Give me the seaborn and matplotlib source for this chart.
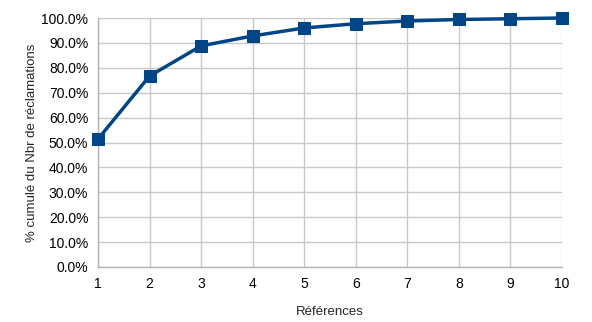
import matplotlib
matplotlib.use("Agg")
import matplotlib.pyplot as plt
import seaborn as sns
import pandas as pd
from matplotlib.ticker import PercentFormatter

references = [1, 2, 3, 4, 5, 6, 7, 8, 9, 10]
cumul_pct = [51.4, 76.7, 88.8, 92.8, 96.0, 97.7, 98.8, 99.4, 99.7, 100.0]

df = pd.DataFrame({"ref": references, "pct": cumul_pct})

sns.set_style("white")
plt.rcParams["font.family"] = ["Liberation Sans", "DejaVu Sans"]

fig = plt.figure(figsize=(5.92, 3.22), dpi=100)
W, H = 592, 322
ax = fig.add_axes([98 / W, (H - 267) / H, (562 - 98) / W, (267 - 18) / H])

sns.lineplot(data=df, x="ref", y="pct", ax=ax, color="#004586", linewidth=2.5,
             marker="s", markersize=8, markeredgecolor="#004586", zorder=3, clip_on=False)

ax.set_xlim(1, 10)
ax.set_ylim(0, 100)
ax.set_xticks(references)
ax.set_yticks(range(0, 101, 10))
ax.yaxis.set_major_formatter(PercentFormatter(decimals=1))
ax.grid(True, color="#c8c8c8", linewidth=1)
ax.set_axisbelow(True)
for s in ["top", "right"]:
    ax.spines[s].set_visible(False)
for s in ["left", "bottom"]:
    ax.spines[s].set_color("#b3b3b3")
    ax.spines[s].set_linewidth(1)
ax.tick_params(axis="both", labelsize=10, colors="#b3b3b3", labelcolor="black",
               length=4, width=1, direction="out", pad=3)
ax.set_xlabel("Références", fontsize=9.5, labelpad=11)
ax.set_ylabel("% cumulé du Nbr de réclamations", fontsize=9.5, labelpad=2)

fig.savefig("out.png", dpi=100)
